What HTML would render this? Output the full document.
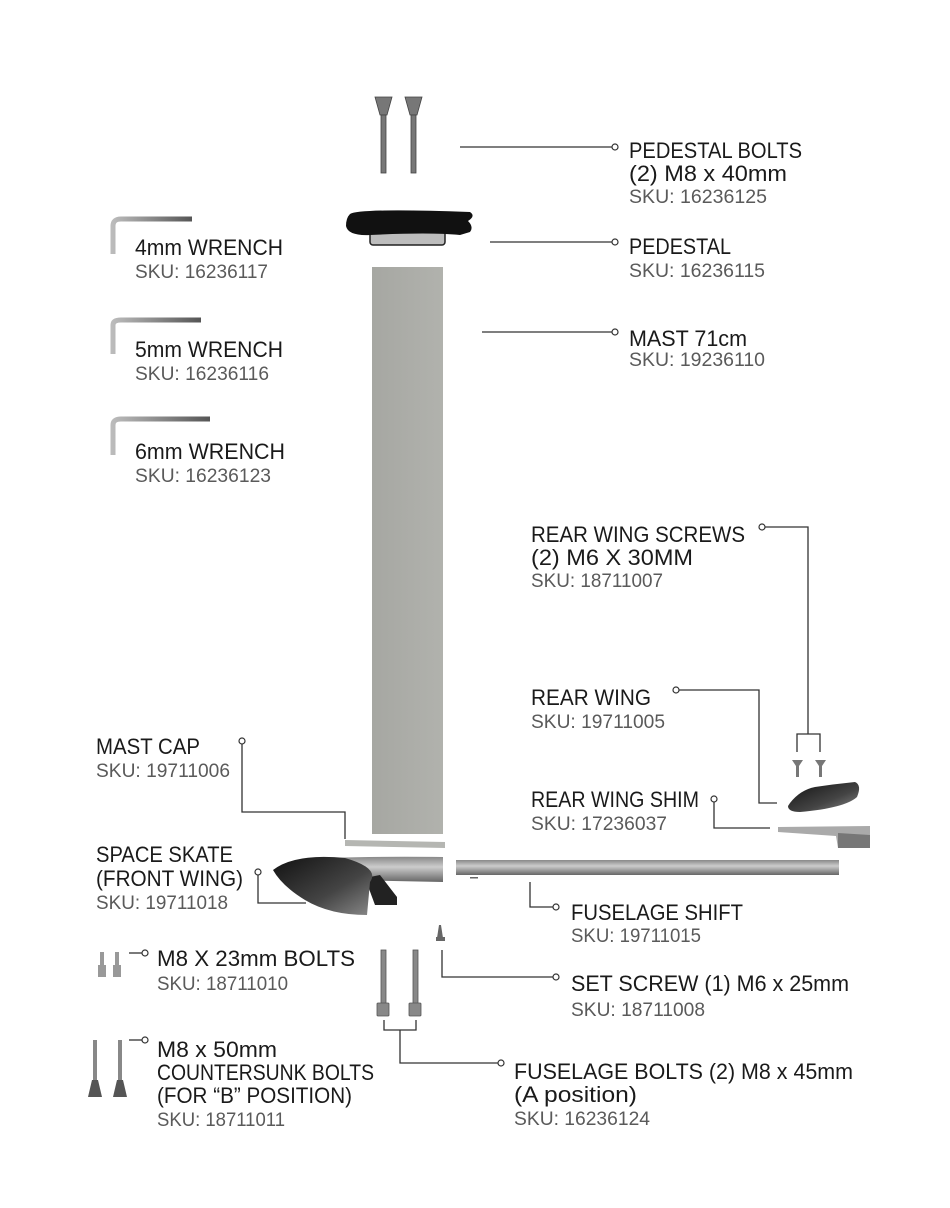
<!DOCTYPE html>
<html><head><meta charset="utf-8"><style>
html,body{margin:0;padding:0;background:#fff;}
svg{display:block;}
.t{font-family:"Liberation Sans",sans-serif;font-size:22px;fill:#1a1a1a;}
.s{font-family:"Liberation Sans",sans-serif;font-size:19px;fill:#5a5a5a;}
.l{stroke:#333;stroke-width:1.3;fill:none;}
.c{stroke:#333;stroke-width:1.2;fill:#fff;}
</style></head><body>
<svg width="950" height="1208" viewBox="0 0 950 1208" xmlns="http://www.w3.org/2000/svg">
<defs>
<linearGradient id="gm" x1="0" x2="1"><stop offset="0" stop-color="#a6a7a2"/><stop offset="1" stop-color="#b1b2ad"/></linearGradient>
<linearGradient id="gw" x1="0" y1="0" x2="1" y2="1"><stop offset="0" stop-color="#111"/><stop offset="0.6" stop-color="#444"/><stop offset="1" stop-color="#888"/></linearGradient>
<linearGradient id="gt" x1="0" y1="0" x2="0" y2="1"><stop offset="0" stop-color="#888"/><stop offset="0.4" stop-color="#ccc"/><stop offset="1" stop-color="#666"/></linearGradient>
<linearGradient id="gk" x1="0" x2="1"><stop offset="0" stop-color="#bbb"/><stop offset="1" stop-color="#555"/></linearGradient>
</defs>

<!-- pedestal bolts -->
<g fill="#777" stroke="#444" stroke-width="0.8">
<path d="M375 97 L392 97 L387 115 L380 115 Z"/><rect x="381" y="115" width="5" height="58"/>
<path d="M405 97 L422 97 L417 115 L410 115 Z"/><rect x="411" y="115" width="5" height="58"/>
</g>
<!-- pedestal -->
<rect x="370" y="225" width="75" height="20" rx="3" fill="#bdbdbd" stroke="#222" stroke-width="1.5"/>
<path d="M350 214 Q360 208 470 212 Q476 216 468 221 Q474 227 470 232 L460 235 Q430 232 370 235 Q348 236 346 226 Q346 218 350 214 Z" fill="#111"/>
<!-- mast -->
<rect x="372" y="267" width="71" height="567" fill="url(#gm)"/>
<!-- mast cap -->
<path d="M345 840 L445 842 L445 848 L345 846 Z" fill="#b5b6b2"/>
<!-- front wing -->
<path d="M300 860 Q340 856 443 857 L443 882 L340 880 Z" fill="url(#gt)"/>
<path d="M365 878 L380 875 L397 897 L397 905 L375 905 Z" fill="#222"/>
<path d="M273 870 Q295 853 345 858 Q380 868 370 882 L367 915 Q330 915 305 900 Q282 886 273 870 Z" fill="url(#gw)"/>
<!-- fuselage -->
<rect x="456" y="860" width="383" height="15" fill="url(#gt)"/>
<rect x="470" y="877" width="8" height="1.5" fill="#666"/>
<!-- rear wing screws -->
<g fill="#777"><path d="M792 760 L803 760 L799 766 L799 777 L796 777 L796 766 Z"/><path d="M815 760 L826 760 L822 766 L822 777 L819 777 L819 766 Z"/></g>
<!-- rear wing -->
<path d="M790 803 Q800 790 815 787 Q835 784 855 782 Q862 785 857 797 Q845 808 800 812 Q788 812 788 806 Z" fill="url(#gw)"/>
<!-- shim -->
<path d="M778 827 L870 826 L870 848 L838 848 L836 836 L778 832 Z" fill="#aaa"/>
<path d="M838 833 L870 835 L870 848 L838 848 Z" fill="#777"/>
<!-- set screw -->
<path d="M437 938 L443 938 L441 925 L439 925 Z" fill="#666"/><rect x="436" y="937" width="9" height="4" fill="#666"/>
<!-- fuselage bolts -->
<g fill="#888" stroke="#555" stroke-width="0.8">
<rect x="381" y="950" width="5" height="54"/><rect x="377" y="1003" width="12" height="13" rx="1"/>
<rect x="413" y="950" width="5" height="54"/><rect x="409" y="1003" width="12" height="13" rx="1"/>
</g>
<!-- M8x23 bolts -->
<g fill="#999"><rect x="100" y="952" width="4" height="14"/><rect x="98" y="965" width="8" height="12"/>
<rect x="115" y="952" width="4" height="14"/><rect x="113" y="965" width="8" height="12"/></g>
<!-- M8x50 -->
<g fill="#888"><rect x="93" y="1040" width="4" height="42"/><path d="M88 1097 L102 1097 L98 1080 L92 1080 Z" fill="#555"/>
<rect x="118" y="1040" width="4" height="42"/><path d="M113 1097 L127 1097 L123 1080 L117 1080 Z" fill="#555"/></g>
<!-- wrenches -->
<g fill="none" stroke="url(#gk)" stroke-width="5">
<path d="M113 254 L113 226 Q113 219 121 219 L192 219"/>
<path d="M113 354 L113 325 Q113 320 121 320 L201 320"/>
<path d="M113 455 L113 425 Q113 419 121 419 L210 419"/>
</g>

<!-- connectors -->
<path class="l" d="M460 147 L612 147"/><circle class="c" cx="615" cy="147" r="3"/>
<path class="l" d="M490 242 L612 242"/><circle class="c" cx="615" cy="242" r="3"/>
<path class="l" d="M482 332 L612 332"/><circle class="c" cx="615" cy="332" r="3"/>
<circle class="c" cx="762" cy="527" r="3"/><path class="l" d="M765 527 L808 527 L808 734 M797 752 L797 734 L820 734 L820 752"/>
<circle class="c" cx="676" cy="690" r="3"/><path class="l" d="M679 690 L759 690 L759 803 L777 803"/>
<circle class="c" cx="714" cy="799" r="3"/><path class="l" d="M714 802 L714 828 L770 828"/>
<circle class="c" cx="242" cy="741" r="3"/><path class="l" d="M242 744 L242 812 L345 812 L345 839"/>
<circle class="c" cx="258" cy="872" r="3"/><path class="l" d="M258 875 L258 903 L306 903"/>
<path class="l" d="M530 882 L530 907 L553 907"/><circle class="c" cx="556" cy="907" r="3"/>
<path class="l" d="M442 950 L442 977 L553 977"/><circle class="c" cx="556" cy="977" r="3"/>
<path class="l" d="M384 1020 L384 1030 L416 1030 L416 1020 M400 1030 L400 1063 L498 1063"/><circle class="c" cx="501" cy="1063" r="3"/>
<path class="l" d="M129 953 L142 953"/><circle class="c" cx="145" cy="953" r="3"/>
<path class="l" d="M129 1040 L142 1040"/><circle class="c" cx="145" cy="1040" r="3"/>

<!-- text -->
<text class="t" x="629" y="158" textLength="173" lengthAdjust="spacingAndGlyphs">PEDESTAL BOLTS</text>
<text class="t" x="629" y="181" textLength="158" lengthAdjust="spacingAndGlyphs">(2) M8 x 40mm</text>
<text class="s" x="629" y="203" textLength="138" lengthAdjust="spacingAndGlyphs">SKU: 16236125</text>
<text class="t" x="629" y="254" textLength="102" lengthAdjust="spacingAndGlyphs">PEDESTAL</text>
<text class="s" x="629" y="277" textLength="136" lengthAdjust="spacingAndGlyphs">SKU: 16236115</text>
<text class="t" x="629" y="346" textLength="118" lengthAdjust="spacingAndGlyphs">MAST 71cm</text>
<text class="s" x="629" y="366" textLength="136" lengthAdjust="spacingAndGlyphs">SKU: 19236110</text>

<text class="t" x="135" y="255" textLength="148" lengthAdjust="spacingAndGlyphs">4mm WRENCH</text>
<text class="s" x="135" y="278" textLength="133" lengthAdjust="spacingAndGlyphs">SKU: 16236117</text>
<text class="t" x="135" y="357" textLength="148" lengthAdjust="spacingAndGlyphs">5mm WRENCH</text>
<text class="s" x="135" y="380" textLength="134" lengthAdjust="spacingAndGlyphs">SKU: 16236116</text>
<text class="t" x="135" y="459" textLength="150" lengthAdjust="spacingAndGlyphs">6mm WRENCH</text>
<text class="s" x="135" y="482" textLength="136" lengthAdjust="spacingAndGlyphs">SKU: 16236123</text>

<text class="t" x="531" y="542" textLength="214" lengthAdjust="spacingAndGlyphs">REAR WING SCREWS</text>
<text class="t" x="531" y="565" textLength="162" lengthAdjust="spacingAndGlyphs">(2) M6 X 30MM</text>
<text class="s" x="531" y="587" textLength="132" lengthAdjust="spacingAndGlyphs">SKU: 18711007</text>
<text class="t" x="531" y="705" textLength="120" lengthAdjust="spacingAndGlyphs">REAR WING</text>
<text class="s" x="531" y="728" textLength="134" lengthAdjust="spacingAndGlyphs">SKU: 19711005</text>
<text class="t" x="531" y="807" textLength="168" lengthAdjust="spacingAndGlyphs">REAR WING SHIM</text>
<text class="s" x="531" y="830" textLength="136" lengthAdjust="spacingAndGlyphs">SKU: 17236037</text>

<text class="t" x="96" y="754" textLength="104" lengthAdjust="spacingAndGlyphs">MAST CAP</text>
<text class="s" x="96" y="777" textLength="134" lengthAdjust="spacingAndGlyphs">SKU: 19711006</text>
<text class="t" x="96" y="862" textLength="137" lengthAdjust="spacingAndGlyphs">SPACE SKATE</text>
<text class="t" x="96" y="886" textLength="147" lengthAdjust="spacingAndGlyphs">(FRONT WING)</text>
<text class="s" x="96" y="909" textLength="132" lengthAdjust="spacingAndGlyphs">SKU: 19711018</text>

<text class="t" x="571" y="920" textLength="172" lengthAdjust="spacingAndGlyphs">FUSELAGE SHIFT</text>
<text class="s" x="571" y="942" textLength="130" lengthAdjust="spacingAndGlyphs">SKU: 19711015</text>
<text class="t" x="571" y="991" textLength="278" lengthAdjust="spacingAndGlyphs">SET SCREW (1) M6 x 25mm</text>
<text class="s" x="571" y="1016" textLength="134" lengthAdjust="spacingAndGlyphs">SKU: 18711008</text>
<text class="t" x="514" y="1079" textLength="339" lengthAdjust="spacingAndGlyphs">FUSELAGE BOLTS (2) M8 x 45mm</text>
<text class="t" x="514" y="1102" textLength="123" lengthAdjust="spacingAndGlyphs">(A position)</text>
<text class="s" x="514" y="1125" textLength="136" lengthAdjust="spacingAndGlyphs">SKU: 16236124</text>

<text class="t" x="157" y="966" textLength="198" lengthAdjust="spacingAndGlyphs">M8 X 23mm BOLTS</text>
<text class="s" x="157" y="990" textLength="131" lengthAdjust="spacingAndGlyphs">SKU: 18711010</text>
<text class="t" x="157" y="1057" textLength="120" lengthAdjust="spacingAndGlyphs">M8 x 50mm</text>
<text class="t" x="157" y="1080" textLength="217" lengthAdjust="spacingAndGlyphs">COUNTERSUNK BOLTS</text>
<text class="t" x="157" y="1103" textLength="195" lengthAdjust="spacingAndGlyphs">(FOR “B” POSITION)</text>
<text class="s" x="157" y="1126" textLength="128" lengthAdjust="spacingAndGlyphs">SKU: 18711011</text>
</svg>
</body></html>
